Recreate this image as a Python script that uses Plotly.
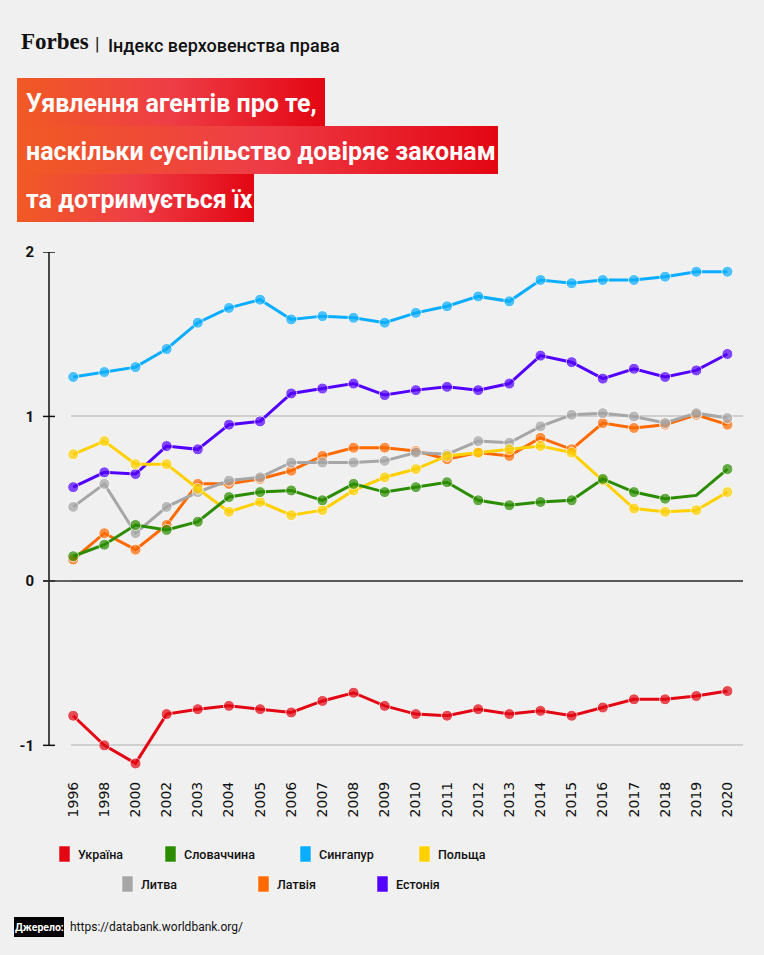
import base64

import plotly.graph_objects as go

# --- data -------------------------------------------------------------------
years = ["1996", "1998", "2000", "2002", "2003", "2004", "2005", "2006",
         "2007", "2008", "2009", "2010", "2011", "2012", "2013", "2014",
         "2015", "2016", "2017", "2018", "2019", "2020"]

ukraine = [-0.82, -1.00, -1.11, -0.81, -0.78, -0.76, -0.78, -0.80, -0.73,
           -0.68, -0.76, -0.81, -0.82, -0.78, -0.81, -0.79, -0.82, -0.77,
           -0.72, -0.72, -0.70, -0.67]
slovakia = [0.15, 0.22, 0.34, 0.31, 0.36, 0.51, 0.54, 0.55, 0.49, 0.59,
            0.54, 0.57, 0.60, 0.49, 0.46, 0.48, 0.49, 0.62, 0.54, 0.50,
            0.52, 0.68]
singapore = [1.24, 1.27, 1.30, 1.41, 1.57, 1.66, 1.71, 1.59, 1.61, 1.60,
             1.57, 1.63, 1.67, 1.73, 1.70, 1.83, 1.81, 1.83, 1.83, 1.85,
             1.88, 1.88]
poland = [0.77, 0.85, 0.71, 0.71, 0.56, 0.42, 0.48, 0.40, 0.43, 0.55,
          0.63, 0.68, 0.76, 0.78, 0.80, 0.82, 0.78, 0.61, 0.44, 0.42,
          0.43, 0.54]
lithuania = [0.45, 0.59, 0.29, 0.45, 0.54, 0.61, 0.63, 0.72, 0.72, 0.72,
             0.73, 0.78, 0.77, 0.85, 0.84, 0.94, 1.01, 1.02, 1.00, 0.96,
             1.02, 0.99]
latvia = [0.13, 0.29, 0.19, 0.34, 0.59, 0.59, 0.62, 0.67, 0.76, 0.81,
          0.81, 0.79, 0.74, 0.78, 0.76, 0.87, 0.80, 0.96, 0.93, 0.95,
          1.01, 0.95]
estonia = [0.57, 0.66, 0.65, 0.82, 0.80, 0.95, 0.97, 1.14, 1.17, 1.20,
           1.13, 1.16, 1.18, 1.16, 1.20, 1.37, 1.33, 1.23, 1.29, 1.24,
           1.28, 1.38]

names = ["Україна", "Словаччина", "Сингапур", "Польща",
         "Литва", "Латвія", "Естонія"]
values = [ukraine, slovakia, singapore, poland, lithuania, latvia, estonia]
colors = ["#E30613", "#2B8C00", "#0AADFF", "#FFD000",
          "#A6A6A6", "#FF6A00", "#5200FF"]

y_ticks = [-1, 0, 1, 2]

# --- geometry helpers (pixels -> paper) --------------------------------------
W, H = 764, 955
L, R, T, B = 71, 743, 252, 770


def px(x):
    return (x - L) / (R - L)


def py(y):
    return (B - y) / (B - T)


SANS = "Roboto, Liberation Sans, sans-serif"

fig = go.Figure()

# draw in reverse legend order so Ukraine/Slovakia end up on top
for name, vals, color in reversed(list(zip(names, values, colors))):
    sizes = [11] * len(years)
    if name == "Словаччина":
        # the 2019 point has no marker in the original
        sizes[years.index("2019")] = 0
    fig.add_trace(go.Scatter(x=years, y=vals, name=name,
                             mode="lines+markers",
                             line=dict(color=color, width=3),
                             marker=dict(color=color, size=sizes),
                             cliponaxis=False,
                             showlegend=False,
                             hoverinfo="skip"))

shapes = []
annotations = []
images = []

# y axis line with centred tick marks
shapes.append(dict(type="line", xref="paper", yref="y",
                   x0=px(49), x1=px(49), y0=-1, y1=2,
                   line=dict(color="#111111", width=1.5)))
for t in y_ticks:
    shapes.append(dict(type="line", xref="paper", yref="y",
                       x0=px(43), x1=px(55), y0=t, y1=t,
                       line=dict(color="#111111", width=1.5)))
# zero line extends to the tick
shapes.append(dict(type="line", xref="paper", yref="y",
                   x0=px(43), x1=1, y0=0, y1=0,
                   line=dict(color="#333333", width=1.5)))


# title boxes with a horizontal orange -> red gradient
def gradient_uri():
    svg = ('<svg xmlns="http://www.w3.org/2000/svg" width="100" height="10" '
           'preserveAspectRatio="none">'
           '<defs><linearGradient id="g" x1="0" y1="0" x2="1" y2="0">'
           '<stop offset="0" stop-color="#F15A24"/>'
           '<stop offset="0.5" stop-color="#EE3D46"/>'
           '<stop offset="1" stop-color="#E30613"/>'
           '</linearGradient></defs>'
           '<rect width="100" height="10" fill="url(#g)"/></svg>')
    return "data:image/svg+xml;base64," + base64.b64encode(
        svg.encode()).decode()


title_lines = ["Уявлення агентів про те,",
               "наскільки суспільство довіряє законам",
               "та дотримується їх"]
box_right = [325, 498, 254]
box_top = [78, 126, 174]
for text, right, top in zip(title_lines, box_right, box_top):
    images.append(dict(source=gradient_uri(), xref="paper", yref="paper",
                       x=px(17), y=py(top), sizex=px(right) - px(17),
                       sizey=py(top) - py(top + 48), xanchor="left",
                       yanchor="top", sizing="stretch", layer="below"))
    annotations.append(dict(text=text, xref="paper", yref="paper",
                            x=px(24), y=py(top + 25), xanchor="left",
                            yanchor="middle", showarrow=False,
                            font=dict(family=SANS, size=25, color="white",
                                      weight="bold")))

# header
annotations.append(dict(text="<b>Forbes</b>", xref="paper", yref="paper",
                        x=px(19), y=py(41), xanchor="left", yanchor="middle",
                        showarrow=False,
                        font=dict(family="Liberation Serif, serif", size=23,
                                  color="#111111")))
annotations.append(dict(text="|", xref="paper", yref="paper",
                        x=px(97), y=py(44), xanchor="center",
                        yanchor="middle", showarrow=False,
                        font=dict(family=SANS, size=18, color="#111111")))
annotations.append(dict(text="Індекс верховенства права", xref="paper",
                        yref="paper", x=px(106), y=py(45), xanchor="left",
                        yanchor="middle", showarrow=False,
                        font=dict(family=SANS, size=18, color="#111111",
                                  weight=500)))

# legend (two centred rows)
leg_x = [59, 165, 300, 419, 122, 258, 377]
leg_y = [854, 854, 854, 854, 884, 884, 884]
for name, color, lx, ly in zip(names, colors, leg_x, leg_y):
    shapes.append(dict(type="rect", xref="paper", yref="paper",
                       x0=px(lx), x1=px(lx + 11), y0=py(ly - 8),
                       y1=py(ly + 8), fillcolor=color,
                       line=dict(color="white", width=0.5)))
    annotations.append(dict(text=name, xref="paper", yref="paper",
                            x=px(lx + 17), y=py(ly), xanchor="left",
                            yanchor="middle", showarrow=False,
                            font=dict(family=SANS, size=12.5,
                                      color="#111111", weight=500)))

# source
shapes.append(dict(type="rect", xref="paper", yref="paper",
                   x0=px(14), x1=px(64), y0=py(937), y1=py(917),
                   fillcolor="#000000", line=dict(width=0)))
annotations.append(dict(text="Джерело:", xref="paper", yref="paper",
                        x=px(39), y=py(927), xanchor="center",
                        yanchor="middle", showarrow=False,
                        font=dict(family=SANS, size=10.5, color="white",
                                  weight="bold")))
annotations.append(dict(text="https://databank.worldbank.org/",
                        xref="paper", yref="paper", x=px(68), y=py(927),
                        xanchor="left", yanchor="middle", showarrow=False,
                        font=dict(family=SANS, size=12, color="#111111")))

fig.update_layout(width=W, height=H,
                  margin=dict(l=L, r=W - R, t=T, b=H - B, pad=0),
                  paper_bgcolor="#F0F0F0",
                  plot_bgcolor="#F0F0F0",
                  shapes=shapes,
                  annotations=annotations,
                  images=images,
                  hovermode=False)

fig.update_xaxes(type="category",
                 range=[-0.07, len(years) - 0.5],
                 showgrid=False,
                 showline=False,
                 zeroline=False,
                 ticks="",
                 tickangle=-90,
                 ticklabelstandoff=8,
                 tickfont=dict(family="DejaVu Sans", size=14,
                               color="#111111"))

fig.update_yaxes(range=[-1.15, 2.0],
                 tickvals=y_ticks,
                 ticktext=[str(t) for t in y_ticks],
                 showgrid=True,
                 gridcolor="#CFCFCF",
                 gridwidth=1.5,
                 zeroline=False,
                 showline=False,
                 ticks="",
                 ticklabelstandoff=36,
                 tickfont=dict(family="Roboto", size=15, color="#111111",
                               weight="bold"))

# the page body has a default 8px margin; drop it so the figure sits at 0,0
fig.write_html("out.html",
               config={"displayModeBar": False},
               post_script="document.body.style.margin = '0';")
